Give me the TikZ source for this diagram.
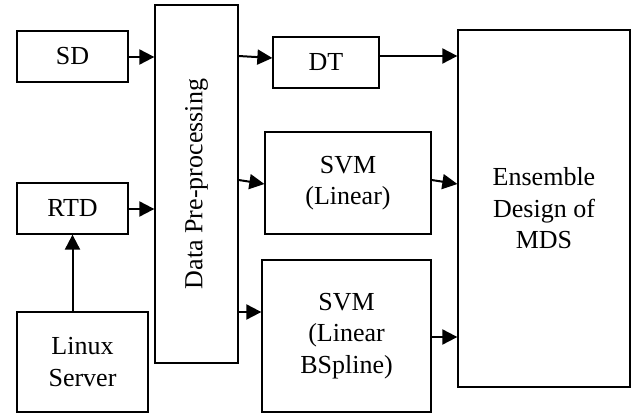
\documentclass[tikz,border=0pt]{standalone}
\usepackage{fontspec}
\setmainfont{Liberation Serif}
\usetikzlibrary{arrows.meta}
\begin{document}
\begin{tikzpicture}[x=1pt,y=-1pt,
  box/.style={draw, line width=1.3pt, rectangle, inner sep=0pt, align=center,
    font=\fontsize{26}{31.5}\selectfont},
  arr/.style={line width=2pt, -{Triangle[length=15pt,width=15pt]}, shorten >=0pt}]
\useasboundingbox (0,0) rectangle (637,414);
\node[box, minimum width=111pt, minimum height=51pt] (sd) at (72.5,56.5) {SD};
\node[box, minimum width=111pt, minimum height=51pt] (rtd) at (72.5,208.5) {RTD};
\node[box, minimum width=131pt, minimum height=100pt] (linux) at (82.5,362) {Linux\\Server};
\node[box, minimum width=83pt, minimum height=358pt] (dp) at (196.5,184) {};
\node[rotate=90, inner sep=0pt, font=\fontsize{26}{31.5}\selectfont] (dplabel) at (dp.center) {Data Pre-processing};
\node[box, minimum width=106pt, minimum height=51pt] (dt) at (326,62.5) {DT};
\node[box, minimum width=166pt, minimum height=102pt] (svma) at (348,183) {SVM\\(Linear)};
\node[box, minimum width=169pt, minimum height=152pt] (svmb) at (346.5,336) {SVM\\(Linear\\BSpline)};
\node[box, minimum width=172pt, minimum height=357pt] (ens) at (544,208.5) {Ensemble\\Design of\\MDS};

\draw[arr] (sd.east |- 0,57) -- (dp.west |- 0,57);
\draw[arr] (rtd.east |- 0,209) -- (dp.west |- 0,209);
\draw[arr] (linux.north -| rtd.south) -- (rtd.south);
\draw[arr] (dp.east |- 0,56) -- (dt.west |- 0,58);
\draw[arr] (dp.east |- 0,180) -- (svma.west |- 0,184);
\draw[arr] (dp.east |- 0,312) -- (svmb.west |- 0,312);
\draw[arr] (dt.east |- 0,56) -- (ens.west |- 0,56);
\draw[arr] (svma.east |- 0,180) -- (ens.west |- 0,184);
\draw[arr] (svmb.east |- 0,337) -- (ens.west |- 0,337);
\end{tikzpicture}
\end{document}
